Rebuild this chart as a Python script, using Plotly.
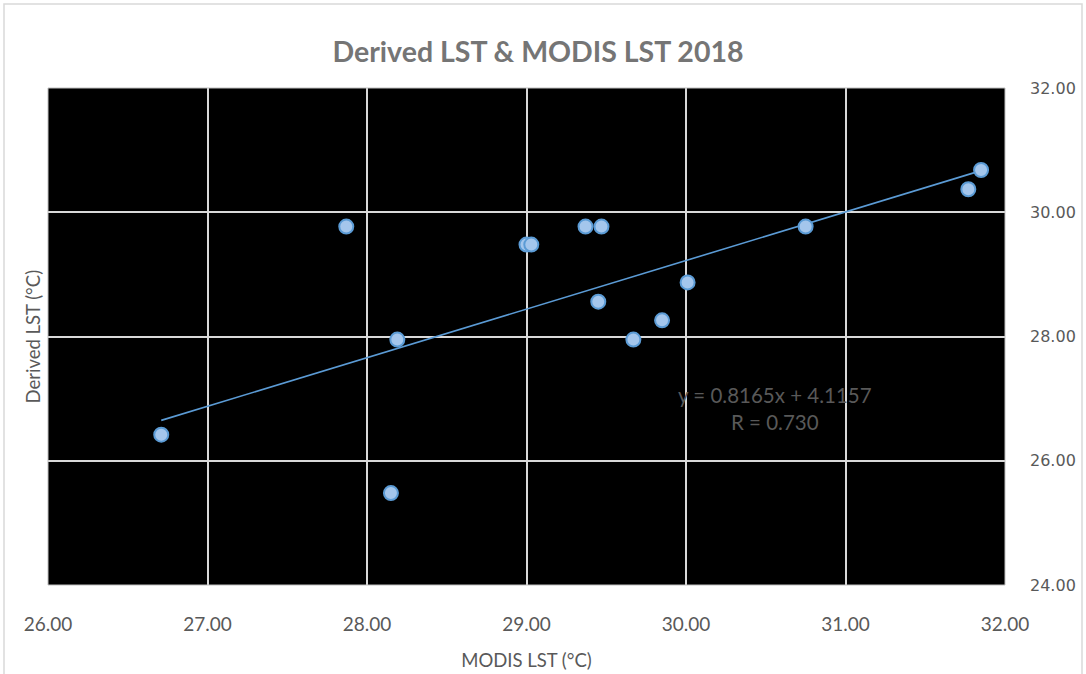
import plotly.graph_objects as go

# MODIS LST vs derived LST (deg C)
modis_lst = [26.71, 27.87, 28.15, 28.19, 29.00, 29.03, 29.37, 29.47, 29.45, 29.67, 29.85, 30.01, 30.75, 31.77, 31.85]
derived_lst = [26.42, 29.77, 25.48, 27.95, 29.48, 29.48, 29.77, 29.77, 28.56, 27.95, 28.26, 28.87, 29.77, 30.37, 30.68]

# trendline end points as drawn in the chart
trend_x = [26.71, 31.85]
trend_y = [26.65, 30.67]

x_ticks = [26, 27, 28, 29, 30, 31, 32]
y_ticks = [24, 26, 28, 30, 32]

eq_text = "y = 0.8165x + 4.1157<br>R = 0.730"

fig = go.Figure()
fig.add_trace(go.Scatter(x=trend_x, y=trend_y, mode='lines', line=dict(color='#5B9BD5', width=1.6), hoverinfo='skip'))
fig.add_trace(go.Scatter(x=modis_lst, y=derived_lst, mode='markers',
                         marker=dict(size=14, color='#A4C6EC', line=dict(color='#5B9BD5', width=2))))

fig.update_layout(
    width=1086, height=674,
    margin=dict(l=48, r=81, t=88, b=89),
    paper_bgcolor='white', plot_bgcolor='black',
    showlegend=False,
    font=dict(family='Lato, sans-serif', color='#595959'),
    title=dict(text='<b>Derived LST & MODIS LST 2018</b>', x=538 / 1086, xanchor='center',
               y=1 - 52 / 674, yanchor='middle', font=dict(size=28.5, color='#757575')),
    xaxis=dict(range=[26, 32], tickvals=x_ticks, ticktext=['%.2f' % v for v in x_ticks],
               showgrid=True, gridcolor='#D9D9D9', gridwidth=1.5, zeroline=False,
               showline=False, ticks='', ticklabelstandoff=26, automargin=False,
               tickfont=dict(size=19, color='#595959'),
               title=dict(text='MODIS LST (°C)', font=dict(size=18.5, color='#595959'), standoff=20)),
    yaxis=dict(range=[24, 32], tickvals=y_ticks, ticktext=['%.2f' % v for v in y_ticks],
               side='right', showgrid=True, gridcolor='#D9D9D9', gridwidth=1.5, zeroline=False,
               showline=False, ticks='', ticklabelstandoff=24, automargin=False,
               tickfont=dict(family='DejaVu Sans, sans-serif', size=16, color='#595959')),
    annotations=[
        dict(text='Derived LST (°C)', xref='paper', yref='paper', x=-16 / 957, y=0.5,
             textangle=-90, showarrow=False, xanchor='center', yanchor='middle',
             font=dict(size=18.5, color='#595959')),
        dict(text=eq_text, xref='paper', yref='paper', x=(775 - 48) / 957, y=(585 - 408) / 497,
             showarrow=False, xanchor='center', yanchor='middle', align='center',
             font=dict(size=20.5, color='#595959')),
    ],
    shapes=[
        dict(type='rect', xref='paper', yref='paper', x0=0, x1=1, y0=0, y1=1,
             line=dict(color='#BFBFBF', width=1), layer='above'),
        dict(type='rect', xref='paper', yref='paper', x0=-44 / 957, x1=1034 / 957,
             y0=-100 / 497, y1=581 / 497, line=dict(color='#D9D9D9', width=1.5)),
    ],
)

fig.write_html("out.html", config={'displayModeBar': False},
               post_script="document.body.style.margin='0px';")
